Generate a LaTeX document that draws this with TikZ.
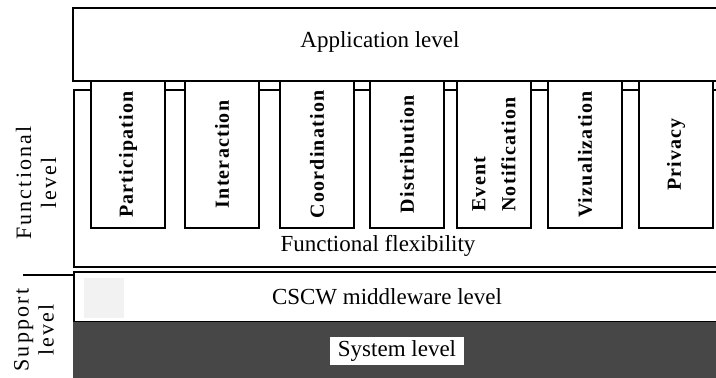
\documentclass[tikz,border=0pt]{standalone}
\usepackage{fontspec}
\setmainfont{Liberation Serif}
\newfontfamily\sidefont[LetterSpace=10]{Liberation Serif}
\newfontfamily\boxfont[LetterSpace=6]{Liberation Serif}

\begin{document}
\begin{tikzpicture}[x=1pt,y=-1pt,
	layer/.style={draw=black, line width=2pt},
	funcbox/.style={draw=black, fill=white, line width=2pt, rotate=90,
		minimum width=147pt, minimum height=74pt, inner sep=0pt, align=left,
		font=\boxfont\bfseries\fontsize{20}{30}\selectfont},
	lvltext/.style={font=\fontsize{23}{26}\selectfont, inner sep=0pt},
	sidetext/.style={font=\sidefont\fontsize{22}{25}\selectfont, rotate=90,
		align=center, inner sep=0pt}
	]
	\clip (0,0) rectangle (716,378);
	
	% application level
	\draw[layer] (73,8) rectangle (722,81);
	\node[lvltext] (applbl) at (380,42) {Application level};
	
	% functional level
	\draw[layer] (74,90) rectangle (722,267);
	\node[lvltext] (flexlbl) at (378,246) {Functional flexibility};
	\foreach \x/\name/\txt in {128/part/Participation, 222/inter/Interaction,
		317/coord/Coordination, 407/distr/Distribution,
		494/event/{Event\\Notification}, 585/vizu/Vizualization, 676/priv/Privacy}
		\node[funcbox] (\name) at (\x,154.5) {\txt};
	
	% support level
	\fill[black!5] (84,278) rectangle (124,318);
	\draw[layer] (74,272) rectangle (722,322);
	\node[lvltext] (mwlbl) at (387,297) {CSCW middleware level};
	\fill[black!72] (73,322) rectangle (722,378);
	\node[lvltext, fill=white, minimum width=134pt, minimum height=28pt] (syslbl) at (397,351) {System level};
	
	% side labels
	\node[sidetext] (funclbl) at (36,183) {Functional\\level};
	\node[sidetext] (suplbl) at (34,330) {Support\\level};
	\draw[line width=2pt] (23,275) -- (74,275);
	
\end{tikzpicture}
\end{document}
